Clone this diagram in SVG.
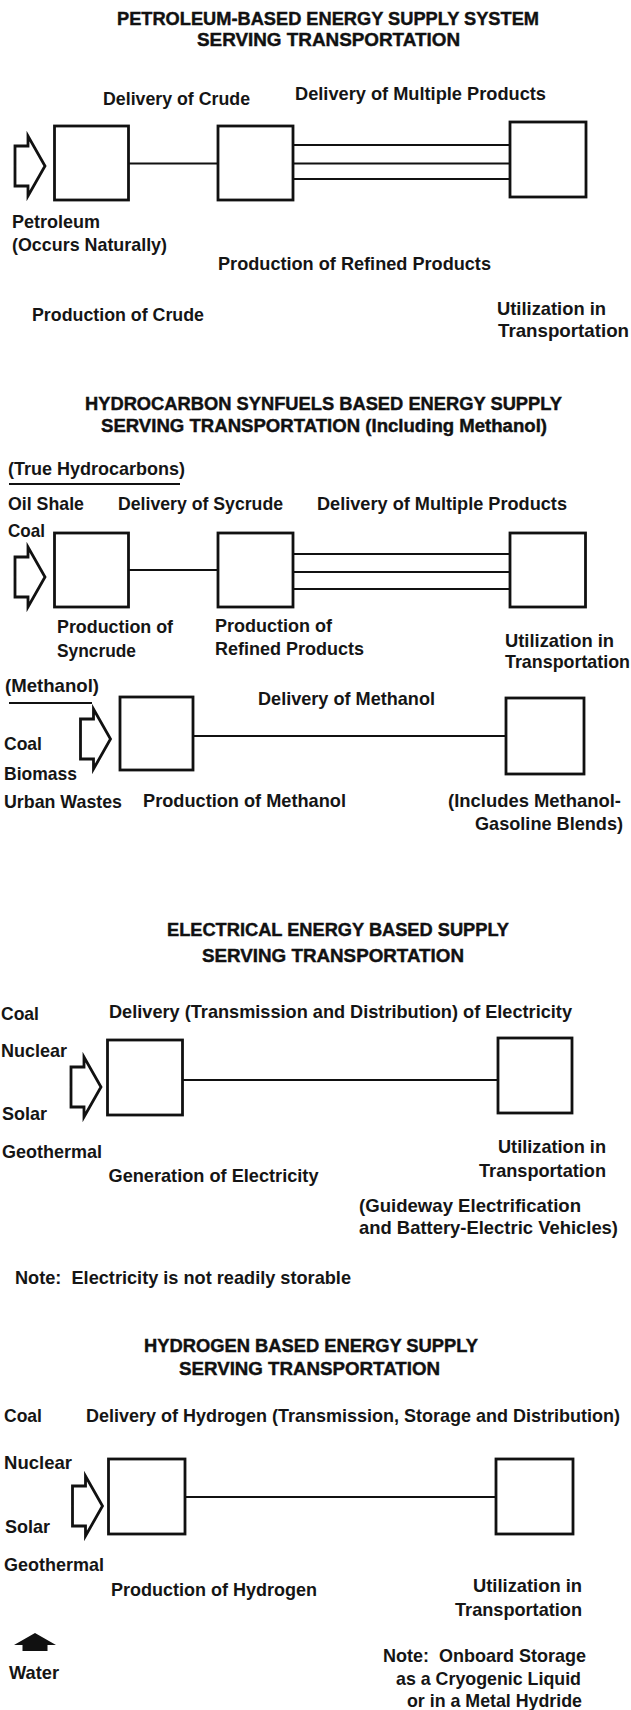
<svg xmlns="http://www.w3.org/2000/svg" xmlns:xlink="http://www.w3.org/1999/xlink" width="631" height="1710" viewBox="0 0 631 1710">
<style>
.bg{fill:#fff}
.box{fill:none;stroke:#111;stroke-width:2.8}
.ln{stroke:#111;stroke-width:2;fill:none}
.arr{fill:#fff;stroke:#111;stroke-width:2.8;stroke-linejoin:miter}
.t{font-family:"Liberation Sans",Arial,sans-serif;font-size:17.8px;font-weight:bold;fill:#151515}
.h{font-family:"Liberation Sans",Arial,sans-serif;font-size:17.5px;font-weight:bold;fill:#111;stroke:#111;stroke-width:0.4}
.e{text-anchor:end}
</style>
<defs>
<path id="arr" d="M-30,-20 H-17 V-30 L0,0 L-17,30 V20 H-30 Z"/>
</defs>
<rect class="bg" x="0" y="0" width="631" height="1710"/>

<!-- Section 1 -->
<g id="s1-title">
<text class="h" x="117" y="25" textLength="422" lengthAdjust="spacingAndGlyphs">PETROLEUM-BASED ENERGY SUPPLY SYSTEM</text>
<text class="h" x="197" y="46" textLength="263" lengthAdjust="spacingAndGlyphs">SERVING TRANSPORTATION</text>
</g>
<g id="s1-source">
<use href="#arr" class="arr" x="45" y="166"/>
<text class="t" x="12" y="228" textLength="88" lengthAdjust="spacingAndGlyphs">Petroleum</text>
<text class="t" x="12" y="250.5" textLength="155" lengthAdjust="spacingAndGlyphs">(Occurs Naturally)</text>
</g>
<g id="s1-crude-production">
<rect class="box" x="54.5" y="126" width="74" height="74"/>
<text class="t" x="32" y="320.5" textLength="172" lengthAdjust="spacingAndGlyphs">Production of Crude</text>
</g>
<g id="s1-refining">
<rect class="box" x="218" y="126" width="75" height="74"/>
<text class="t" x="218" y="270" textLength="273" lengthAdjust="spacingAndGlyphs">Production of Refined Products</text>
</g>
<g id="s1-utilization">
<rect class="box" x="510" y="122" width="76" height="75"/>
<text class="t" x="497" y="315" textLength="109" lengthAdjust="spacingAndGlyphs">Utilization in</text>
<text class="t" x="498" y="337" textLength="131" lengthAdjust="spacingAndGlyphs">Transportation</text>
</g>

<!-- Section 2 -->
<g id="s2-title">
<text class="h" x="85" y="410" textLength="477" lengthAdjust="spacingAndGlyphs">HYDROCARBON SYNFUELS BASED ENERGY SUPPLY</text>
<text class="h" x="101" y="432" textLength="446" lengthAdjust="spacingAndGlyphs">SERVING TRANSPORTATION (Including Methanol)</text>
</g>
<g id="s2-hc-source">
<text class="t" x="8" y="475" textLength="177" lengthAdjust="spacingAndGlyphs">(True Hydrocarbons)</text>
<line class="ln" x1="9" y1="484" x2="180" y2="484"/>
<text class="t" x="8" y="510" textLength="76" lengthAdjust="spacingAndGlyphs">Oil Shale</text>
<text class="t" x="8" y="537" textLength="37" lengthAdjust="spacingAndGlyphs">Coal</text>
<use href="#arr" class="arr" x="45" y="577"/>
</g>
<g id="s2-syncrude-production">
<rect class="box" x="54.5" y="533" width="74" height="74"/>
<text class="t" x="57" y="633" textLength="116" lengthAdjust="spacingAndGlyphs">Production of</text>
<text class="t" x="57" y="657" textLength="79" lengthAdjust="spacingAndGlyphs">Syncrude</text>
</g>
<g id="s2-refining">
<rect class="box" x="218" y="533" width="75" height="74"/>
<text class="t" x="215" y="632" textLength="117" lengthAdjust="spacingAndGlyphs">Production of</text>
<text class="t" x="215" y="655" textLength="149" lengthAdjust="spacingAndGlyphs">Refined Products</text>
</g>
<g id="s2-utilization">
<rect class="box" x="510" y="533" width="75.5" height="74"/>
<text class="t" x="505" y="647" textLength="109" lengthAdjust="spacingAndGlyphs">Utilization in</text>
<text class="t" x="505" y="668" textLength="125" lengthAdjust="spacingAndGlyphs">Transportation</text>
</g>
<g id="s2-methanol-source">
<text class="t" x="5" y="692" textLength="94" lengthAdjust="spacingAndGlyphs">(Methanol)</text>
<line class="ln" x1="9" y1="703" x2="92" y2="703"/>
<text class="t" x="4" y="750" textLength="38" lengthAdjust="spacingAndGlyphs">Coal</text>
<text class="t" x="4" y="780" textLength="73" lengthAdjust="spacingAndGlyphs">Biomass</text>
<text class="t" x="4" y="808" textLength="118" lengthAdjust="spacingAndGlyphs">Urban Wastes</text>
<use href="#arr" class="arr" x="110.5" y="739"/>
</g>
<g id="s2-methanol-production">
<rect class="box" x="120" y="697" width="73" height="73"/>
<text class="t" x="143" y="807" textLength="203" lengthAdjust="spacingAndGlyphs">Production of Methanol</text>
</g>
<g id="s2-methanol-utilization">
<rect class="box" x="506" y="698" width="78" height="76"/>
<text class="t" x="448" y="807" textLength="173" lengthAdjust="spacingAndGlyphs">(Includes Methanol-</text>
<text class="t" x="475" y="830" textLength="148" lengthAdjust="spacingAndGlyphs">Gasoline Blends)</text>
</g>

<!-- Section 3 -->
<g id="s3-title">
<text class="h" x="167" y="936" textLength="342" lengthAdjust="spacingAndGlyphs">ELECTRICAL ENERGY BASED SUPPLY</text>
<text class="h" x="202" y="961.5" textLength="262" lengthAdjust="spacingAndGlyphs">SERVING TRANSPORTATION</text>
</g>
<g id="s3-source">
<text class="t" x="1" y="1020" textLength="38" lengthAdjust="spacingAndGlyphs">Coal</text>
<text class="t" x="1" y="1057" textLength="66" lengthAdjust="spacingAndGlyphs">Nuclear</text>
<text class="t" x="2" y="1120" textLength="45" lengthAdjust="spacingAndGlyphs">Solar</text>
<text class="t" x="2" y="1157.5" textLength="100" lengthAdjust="spacingAndGlyphs">Geothermal</text>
<use href="#arr" class="arr" x="101" y="1087"/>
</g>
<g id="s3-generation">
<rect class="box" x="107.5" y="1040" width="75" height="75"/>
<text class="t" x="108.5" y="1182" textLength="210" lengthAdjust="spacingAndGlyphs">Generation of Electricity</text>
</g>
<g id="s3-utilization">
<rect class="box" x="498" y="1038" width="74" height="75"/>
<text class="t" x="498" y="1153" textLength="108" lengthAdjust="spacingAndGlyphs">Utilization in</text>
<text class="t" x="479" y="1177" textLength="127" lengthAdjust="spacingAndGlyphs">Transportation</text>
<text class="t" x="359" y="1212" textLength="222" lengthAdjust="spacingAndGlyphs">(Guideway Electrification</text>
<text class="t" x="359" y="1234" textLength="259" lengthAdjust="spacingAndGlyphs">and Battery-Electric Vehicles)</text>
</g>
<g id="s3-note">
<text class="t" x="15" y="1284" textLength="336" lengthAdjust="spacingAndGlyphs" xml:space="preserve">Note:  Electricity is not readily storable</text>
</g>

<!-- Section 4 -->
<g id="s4-title">
<text class="h" x="144" y="1351.5" textLength="334" lengthAdjust="spacingAndGlyphs">HYDROGEN BASED ENERGY SUPPLY</text>
<text class="h" x="179" y="1375" textLength="261" lengthAdjust="spacingAndGlyphs">SERVING TRANSPORTATION</text>
</g>
<g id="s4-source">
<text class="t" x="4" y="1421.5" textLength="38" lengthAdjust="spacingAndGlyphs">Coal</text>
<text class="t" x="4" y="1469" textLength="68" lengthAdjust="spacingAndGlyphs">Nuclear</text>
<text class="t" x="5" y="1533" textLength="45" lengthAdjust="spacingAndGlyphs">Solar</text>
<text class="t" x="4" y="1571" textLength="100" lengthAdjust="spacingAndGlyphs">Geothermal</text>
<use href="#arr" class="arr" x="102.5" y="1506"/>
</g>
<g id="s4-water">
<path d="M35,1633 L56,1645 H47.5 V1651 H22.5 V1645 H14 Z" fill="#111"/>
<text class="t" x="9" y="1679" textLength="50" lengthAdjust="spacingAndGlyphs">Water</text>
</g>
<g id="s4-production">
<rect class="box" x="108.5" y="1459" width="76.5" height="75"/>
<text class="t" x="111" y="1596" textLength="206" lengthAdjust="spacingAndGlyphs">Production of Hydrogen</text>
</g>
<g id="s4-utilization">
<rect class="box" x="496" y="1459" width="77" height="75"/>
<text class="t e" x="582" y="1592" textLength="109" lengthAdjust="spacingAndGlyphs">Utilization in</text>
<text class="t e" x="582" y="1615.5" textLength="127" lengthAdjust="spacingAndGlyphs">Transportation</text>
<text class="t e" x="586" y="1662" textLength="203" lengthAdjust="spacingAndGlyphs" xml:space="preserve">Note:  Onboard Storage</text>
<text class="t e" x="581" y="1684.5" textLength="185" lengthAdjust="spacingAndGlyphs">as a Cryogenic Liquid</text>
<text class="t e" x="582" y="1706.5" textLength="175" lengthAdjust="spacingAndGlyphs">or in a Metal Hydride</text>
</g>

<!-- Connectors -->
<g id="connectors">
<line class="ln" x1="128.5" y1="163.5" x2="218" y2="163.5"/>
<line class="ln" x1="293" y1="145" x2="510" y2="145"/>
<line class="ln" x1="293" y1="163.5" x2="510" y2="163.5"/>
<line class="ln" x1="293" y1="179" x2="510" y2="179"/>
<text class="t" x="103" y="105" textLength="147" lengthAdjust="spacingAndGlyphs">Delivery of Crude</text>
<text class="t" x="295" y="99.5" textLength="251" lengthAdjust="spacingAndGlyphs">Delivery of Multiple Products</text>

<line class="ln" x1="128.5" y1="570" x2="218" y2="570"/>
<line class="ln" x1="293" y1="554" x2="510" y2="554"/>
<line class="ln" x1="293" y1="572" x2="510" y2="572"/>
<line class="ln" x1="293" y1="589" x2="510" y2="589"/>
<text class="t" x="118" y="510" textLength="165" lengthAdjust="spacingAndGlyphs">Delivery of Sycrude</text>
<text class="t" x="317" y="510" textLength="250" lengthAdjust="spacingAndGlyphs">Delivery of Multiple Products</text>

<line class="ln" x1="193" y1="736" x2="506" y2="736"/>
<text class="t" x="258" y="705" textLength="177" lengthAdjust="spacingAndGlyphs">Delivery of Methanol</text>

<line class="ln" x1="182.5" y1="1080" x2="498" y2="1080"/>
<text class="t" x="109" y="1017.5" textLength="463" lengthAdjust="spacingAndGlyphs">Delivery (Transmission and Distribution) of Electricity</text>

<line class="ln" x1="185" y1="1497" x2="496" y2="1497"/>
<text class="t" x="86" y="1421.5" textLength="534" lengthAdjust="spacingAndGlyphs">Delivery of Hydrogen (Transmission, Storage and Distribution)</text>
</g>
</svg>
